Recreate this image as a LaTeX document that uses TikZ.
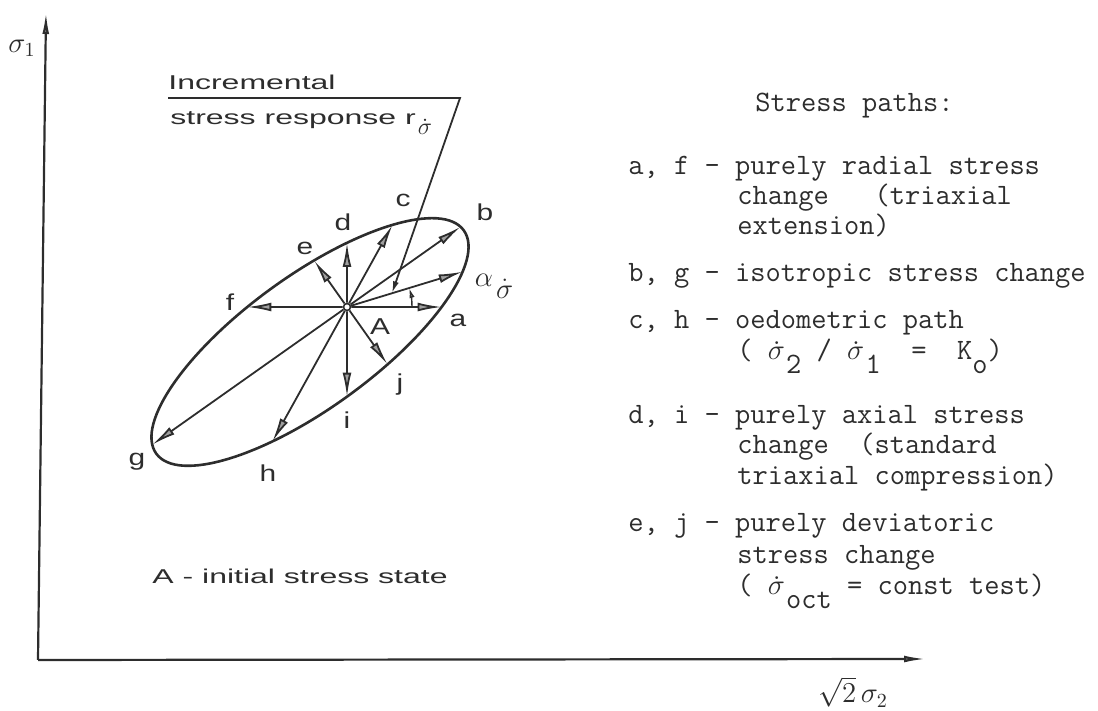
\documentclass[tikz,border=0pt]{standalone}
\usepackage{amsmath}
\usepackage{fontspec}
\newfontfamily\lettering[FakeStretch=1.6]{Liberation Sans}
\newfontfamily\letterlbl[FakeStretch=1.3]{Liberation Sans}
\usetikzlibrary{
  arrows.meta,
  calc,
  intersections
}
\definecolor{ink}{RGB}{45,45,45}
\definecolor{headgray}{RGB}{160,160,160}
% sigma with a dot above, built from a raised full stop
\newcommand{\dotsig}[1]{{\fontsize{#1}{#1}\selectfont\rmfamily\makebox[0pt][l]{\raisebox{0.55em}{\hspace{0.17em}.}}$\sigma$}}
\newcommand{\sdot}{\makebox[0.62em][l]{\dotsig{14.5}}}
\newcommand{\lowr}[1]{\raisebox{-0.45em}{#1}}
\newcommand{\subsd}{\kern1pt\raisebox{-0.9ex}{\dotsig{12}}}
\tikzset{
  axis/.style={ink, line width=1.1pt, -{Latex[length=11pt,width=3.4pt,fill=headgray]}},
  curve/.style={ink, line width=1.3pt},
  ray/.style={ink, line width=0.9pt, -{Latex[length=12pt,width=4.4pt,fill=headgray]}},
  lbl/.style={font=\letterlbl\fontsize{11.5}{13}\selectfont, text=ink, inner sep=0pt},
  hand/.style={font=\lettering\fontsize{10}{12}\selectfont, text=ink, inner sep=0pt, anchor=base west},
  typed/.style={font=\ttfamily\fontsize{14.8}{16}\selectfont, text=ink, inner sep=0pt, anchor=base west}
}

\begin{document}
\begin{tikzpicture}[x=0.5pt,y=0.5pt]
  \useasboundingbox (0,0) rectangle (1098,711);

  % axes
  \coordinate (O) at (38,51);
  \coordinate (ytop) at (46,699);
  \coordinate (xend) at (926,52);
  \draw[axis] (O) -- (ytop);
  \draw[axis] (O) -- (xend);
  \node[font=\fontsize{14}{16}\selectfont, text=ink] (s1) at (22,663) {$\sigma_1$};
  \node[font=\fontsize{14}{16}\selectfont, text=ink] (s2) at (853,19) {$\sqrt{2}\,\sigma_2$};

  % response ellipse and stress paths from A
  \coordinate (E) at (310,369);
  \draw[curve, name path=ell, rotate around={36:(E)}] (E) ellipse [x radius=95pt, y radius=33pt];
  \node[circle, draw=ink, fill=white, line width=0.8pt, inner sep=0pt, minimum size=3.5pt] (A) at (347,404) {};
  \foreach \p/\ang in {a/0, al/17, b/35.26, c/61, d/90, e/125.26, f/180, g/215.26, h/241, i/270, j/305.26} {
    \path[name path=beam] (A.center) -- ++(\ang:400);
    \path[name intersections={of=ell and beam, by={p\p}}];
    \draw[ray] (A) -- (p\p);
  }
  \draw[ink, line width=0.7pt, -{Latex[length=5pt,width=2.6pt,fill=headgray]}]
    ($(A)+(0:65)$) arc[start angle=0, end angle=17, radius=32.5pt];

  \node[lbl] (la) at (458,391) {a};
  \node[lbl, font=\fontsize{15}{16}\selectfont] (lal) at (494,425) {$\alpha$\kern1.5pt\raisebox{-0.9ex}{\dotsig{15}}};
  \node[lbl] (lb) at (485,499) {b};
  \node[lbl] (lc) at (403,511) {c};
  \node[lbl] (ld) at (343,489) {d};
  \node[lbl] (le) at (305,463) {e};
  \node[lbl] (lf) at (230,409) {f};
  \node[lbl] (lg) at (137,249) {g};
  \node[lbl] (lh) at (268,238) {h};
  \node[lbl] (li) at (347,291) {i};
  \node[lbl] (lj) at (400,326) {j};
  \node[lbl] (lA) at (380,384) {A};

  % incremental response label
  \node[hand] (inc) at (168,621) {Incremental};
  \node[hand] (resp) at (170,586) {stress response r\subsd};
  \coordinate (u1) at (168,613);
  \coordinate (u2) at (460,613);
  \coordinate (rtip) at ($(A)+(17:47)$);
  \draw[ink, line width=0.9pt, -{Latex[length=6pt,width=3pt]}] (u1) -- (u2) -- (rtip);

  \node[hand, anchor=base] (init) at (300,127) {A - initial stress state};

  % stress path legend
  \node[typed] (l1) at (755,599) {Stress paths:};
  \node[typed] (l2) at (628,536) {a, f - purely radial stress};
  \node[typed] (l3) at (737,506) {change~~~(triaxial};
  \node[typed] (l4) at (737,476) {extension)};
  \node[typed] (l5) at (628,429) {b, g - isotropic stress change};
  \node[typed] (l6) at (628,382) {c, h - oedometric path};
  \node[typed] (l7) at (737,351) {(~\sdot\lowr{2}~/~\sdot\lowr{1}~~=~~K\lowr{o})};
  \node[typed] (l8) at (628,287) {d, i - purely axial stress};
  \node[typed] (l9) at (737,257) {change~~(standard};
  \node[typed] (l10) at (737,226) {triaxial compression)};
  \node[typed] (l11) at (628,179) {e, j - purely deviatoric};
  \node[typed] (l12) at (737,147) {stress change};
  \node[typed] (l13) at (737,116) {(~\sdot\lowr{oct}~=~const test)};

\end{tikzpicture}
\end{document}
